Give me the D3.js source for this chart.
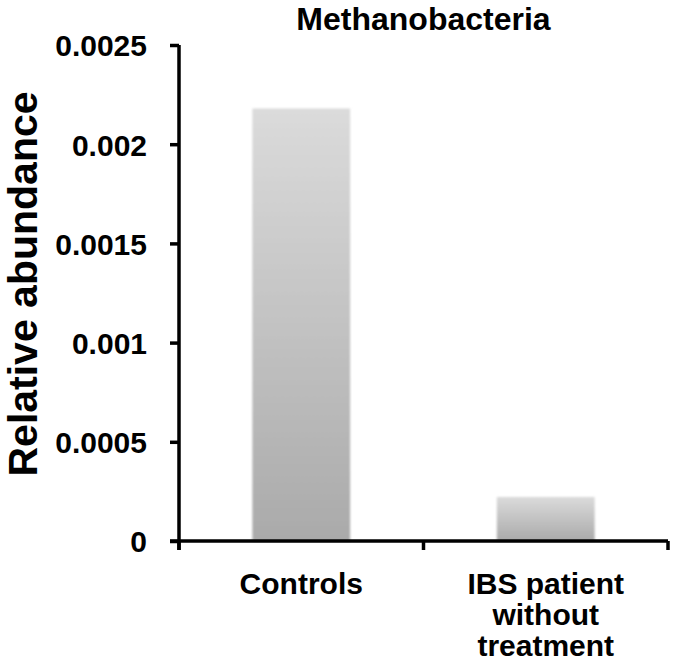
<!DOCTYPE html>
<html>
<head>
<meta charset="utf-8">
<script src="https://cdn.jsdelivr.net/npm/d3@7"></script>
<style>
  body { margin: 0; background: #fff; }
  text { font-family: "Liberation Sans", Arial, sans-serif; font-weight: bold; fill: #000; }
</style>
</head>
<body>
<svg id="chart" width="675" height="662"></svg>
<script>
const categories = ['Controls', 'IBS patient|without|treatment']
const values = [0.00218, 0.000222]
const yTicks = [0, 0.0005, 0.001, 0.0015, 0.002, 0.0025]
const yTickLabels = ['0', '0.0005', '0.001', '0.0015', '0.002', '0.0025']
const title = 'Methanobacteria'
const yTitle = 'Relative abundance'

const svg = d3.select('#chart')
const margin = { top: 45, right: 7, bottom: 121, left: 179 }
const W = 675, H = 662
const x0 = margin.left, x1 = W - margin.right
const y0 = H - margin.bottom, y1 = margin.top

const scaleX = d3.scaleBand().domain(categories).range([x0, x1]).paddingInner(0.6).paddingOuter(0.3)
const scaleY = d3.scaleLinear().domain([0, 0.0025]).range([y0, y1])

// bar gradient
const defs = svg.append('defs')
const grad = defs.append('linearGradient').attr('id', 'barGrad')
  .attr('x1', 0).attr('y1', 0).attr('x2', 0).attr('y2', 1)
grad.append('stop').attr('offset', '0%').attr('stop-color', '#dbdbdb')
grad.append('stop').attr('offset', '100%').attr('stop-color', '#aaaaaa')
defs.append('filter').attr('id', 'soft')
  .append('feGaussianBlur').attr('stdDeviation', 0.8)

svg.selectAll('rect.bar')
  .data(values)
  .join('rect')
  .attr('class', 'bar')
  .attr('x', (d, i) => scaleX(categories[i]))
  .attr('y', d => scaleY(d))
  .attr('width', scaleX.bandwidth())
  .attr('height', d => scaleY(0) - scaleY(d))
  .attr('fill', 'url(#barGrad)')
  .attr('filter', 'url(#soft)')

// y axis
const yAxis = d3.axisLeft(scaleY).tickValues(yTicks)
  .tickFormat((d, i) => yTickLabels[i]).tickSize(9).tickPadding(23)
const gy = svg.append('g').attr('transform', `translate(${x0},0)`).call(yAxis)
gy.select('.domain').attr('d', `M0,${y1}V${y0 + 9}`).attr('stroke', '#000').attr('stroke-width', 3.5)
gy.selectAll('.tick line').attr('stroke', '#000').attr('stroke-width', 3.5)
gy.selectAll('.tick text').style('font-size', '30px').attr('dy', '0.36em')

// x axis: line with ticks at category boundaries
const bounds = [x0, x0 + (x1 - x0) / 2, x1]
const gx = svg.append('g')
gx.append('line').attr('x1', x0 - 9).attr('x2', x1).attr('y1', y0).attr('y2', y0)
  .attr('stroke', '#000').attr('stroke-width', 3.5)
gx.selectAll('line.xt').data(bounds).join('line').attr('class', 'xt')
  .attr('x1', d => d).attr('x2', d => d).attr('y1', y0).attr('y2', y0 + 9)
  .attr('stroke', '#000').attr('stroke-width', 3.5)

gx.selectAll('text.cat').data(categories).join('text').attr('class', 'cat')
  .attr('text-anchor', 'middle')
  .attr('transform', d => `translate(${scaleX(d) + scaleX.bandwidth() / 2},${y0 + 53})`)
  .style('font-size', '30px')
  .each(function (d) {
    const t = d3.select(this)
    d.split('|').forEach((ln, i) => {
      t.append('tspan').attr('x', 0).attr('y', i * 31).text(ln)
    })
  })

// title centred over the plot area
svg.append('text').attr('x', (x0 + x1) / 2).attr('y', 30).attr('text-anchor', 'middle')
  .style('font-size', '32px').text(title)

svg.append('text').attr('transform', `translate(37,284) rotate(-90)`)
  .attr('text-anchor', 'middle').style('font-size', '41px').text(yTitle)
</script>
</body>
</html>
